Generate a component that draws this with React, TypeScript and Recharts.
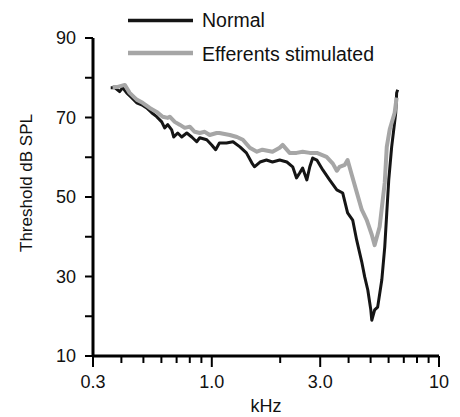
import { LineChart, Line, XAxis, YAxis } from 'recharts';

// frequency (kHz) and threshold (dB SPL)
const normalKhz = [
  0.359, 0.374, 0.393, 0.405, 0.422, 0.444, 0.467, 0.491, 0.517, 0.544, 0.572, 0.602,
  0.62, 0.64, 0.666, 0.68, 0.708, 0.737, 0.776, 0.816, 0.858, 0.885, 0.95, 0.999,
  1.04, 1.08, 1.16, 1.24, 1.33, 1.42, 1.5, 1.54, 1.63, 1.74, 1.85, 1.99,
  2.14, 2.27, 2.36, 2.44, 2.51, 2.62, 2.7, 2.78, 2.9, 3.08, 3.3, 3.55,
  3.77, 3.96, 4.17, 4.34, 4.57, 4.71, 4.86, 5.01, 5.06, 5.21, 5.37, 5.6,
  5.77, 5.89, 6.01, 6.19, 6.32, 6.45, 6.51, 6.58,
];
const normalDb = [
  77.5, 77.5, 76.5, 77.5, 76.2, 75.0, 73.7, 73.2, 72.4, 71.2, 70.2, 68.9,
  67.4, 68.2, 66.9, 65.1, 66.1, 65.1, 66.1, 65.1, 63.9, 64.9, 64.4, 63.1,
  61.9, 63.6, 63.6, 63.9, 62.6, 61.1, 58.6, 57.6, 58.8, 59.3, 58.8, 59.3,
  58.8, 57.6, 54.8, 56.1, 57.3, 54.3, 57.6, 59.8, 59.3, 56.8, 54.3, 51.8,
  51.0, 46.0, 44.2, 39.2, 33.7, 29.9, 26.6, 21.6, 19.0, 21.6, 22.3, 29.1,
  37.4, 46.0, 54.3, 62.6, 66.9, 71.2, 76.2, 77.0,
];

const stimKhz = [
  0.366, 0.385, 0.414, 0.435, 0.467, 0.496, 0.533, 0.572, 0.608, 0.64, 0.653, 0.687,
  0.722, 0.76, 0.8, 0.841, 0.885, 0.931, 0.979, 1.05, 1.08, 1.2, 1.29, 1.37,
  1.47, 1.58, 1.67, 1.85, 1.99, 2.05, 2.2, 2.36, 2.51, 2.7, 2.9, 3.2,
  3.41, 3.55, 3.65, 3.85, 3.96, 4.13, 4.34, 4.57, 4.81, 5.06, 5.21, 5.48,
  5.77, 5.89, 6.07, 6.38, 6.51,
];
const stimDb = [
  77.7, 77.7, 78.2, 76.2, 74.5, 73.7, 72.4, 71.4, 70.2, 69.9, 70.2, 68.9,
  68.2, 67.4, 67.7, 66.4, 66.1, 66.4, 65.6, 66.1, 66.1, 65.6, 65.1, 64.4,
  62.4, 61.4, 61.9, 61.4, 62.4, 63.1, 61.1, 61.1, 61.4, 61.1, 61.1, 60.1,
  58.4, 56.6, 57.6, 58.1, 59.3, 55.6, 51.3, 46.8, 44.2, 40.5, 37.9, 42.5,
  53.6, 62.6, 67.0, 71.2, 75.0,
];

const xTicks = [0.3, 0.4, 0.5, 0.6, 0.7, 0.8, 0.9, 1, 2, 3, 4, 5, 6, 7, 8, 9, 10];
const xLabels: Record<number, string> = { 0.3: '0.3', 1: '1.0', 3: '3.0', 10: '10' };
const yTicks = [10, 20, 30, 40, 50, 60, 70, 80, 90];
const yLabels = [10, 30, 50, 70, 90];

const FONT = '"Liberation Sans", Arial, Helvetica, sans-serif';

const zip = (xs: number[], ys: number[]) => xs.map((khz, i) => ({ khz, db: ys[i] }));
const normal = zip(normalKhz, normalDb);
const stim = zip(stimKhz, stimDb);

function XTick({ x, y, payload }: any) {
  const label = xLabels[payload.value];
  return (
    <g>
      <line x1={x} x2={x} y1={y} y2={y + (label ? 11 : 7)} stroke="#000" strokeWidth={2} />
      {label && (
        <text x={x} y={y + 32} textAnchor="middle" fontSize={18} fill="#111" fontFamily={FONT}>
          {label}
        </text>
      )}
    </g>
  );
}

function YTick({ x, y, payload }: any) {
  const show = yLabels.includes(payload.value);
  return (
    <g>
      <line x1={x - 8} x2={x} y1={y} y2={y} stroke="#000" strokeWidth={2} />
      {show && (
        <text x={x - 17} y={y} dy="0.36em" textAnchor="end" fontSize={18} fill="#111" fontFamily={FONT}>
          {payload.value}
        </text>
      )}
    </g>
  );
}

function YTitle({ viewBox }: any) {
  const cx = viewBox.x + 32;
  const cy = viewBox.y + viewBox.height / 2 - 14;
  return (
    <text x={cx} y={cy} transform={`rotate(-90 ${cx} ${cy})`} textAnchor="middle"
      fontSize={17} fill="#111" fontFamily={FONT}>
      Threshold dB SPL
    </text>
  );
}

export default function App() {
  return (
    <div style={{ position: 'absolute', left: 0, top: 0, width: 460, height: 417, background: '#fff' }}>
      <LineChart width={460} height={417} data={normal} margin={{ top: 38, right: 21, bottom: 0, left: 0 }}>
        <XAxis
          dataKey="khz"
          type="number"
          scale="log"
          domain={[0.3, 10]}
          allowDataOverflow
          ticks={xTicks}
          interval={0}
          tick={<XTick />}
          tickLine={false}
          tickSize={0}
          tickMargin={0}
          height={61}
          axisLine={{ stroke: '#000', strokeWidth: 3 }}
          label={{ value: 'kHz', position: 'insideBottom', offset: 5, fontSize: 18, fill: '#111', fontFamily: FONT }}
        />
        <YAxis
          type="number"
          domain={[10, 90]}
          ticks={yTicks}
          interval={0}
          width={93}
          tick={<YTick />}
          tickLine={false}
          tickSize={0}
          tickMargin={0}
          axisLine={{ stroke: '#000', strokeWidth: 3 }}
          label={<YTitle />}
        />
        <Line data={normal} dataKey="db" stroke="#151515" strokeWidth={3} dot={false}
          strokeLinejoin="round" isAnimationActive={false} />
        <Line data={stim} dataKey="db" stroke="#a6a6a6" strokeWidth={4} dot={false}
          strokeLinejoin="round" isAnimationActive={false} />
      </LineChart>
      <svg width={460} height={70} style={{ position: 'absolute', left: 0, top: 0 }}>
        <line x1={128} x2={193} y1={20.5} y2={20.5} stroke="#151515" strokeWidth={3.5} />
        <text x={202} y={27} fontSize={19.5} fill="#111" fontFamily={FONT}>Normal</text>
        <line x1={128} x2={193} y1={53} y2={53} stroke="#a6a6a6" strokeWidth={4.5} />
        <text x={202} y={61} fontSize={19.5} fill="#111" fontFamily={FONT}>Efferents stimulated</text>
      </svg>
    </div>
  );
}
